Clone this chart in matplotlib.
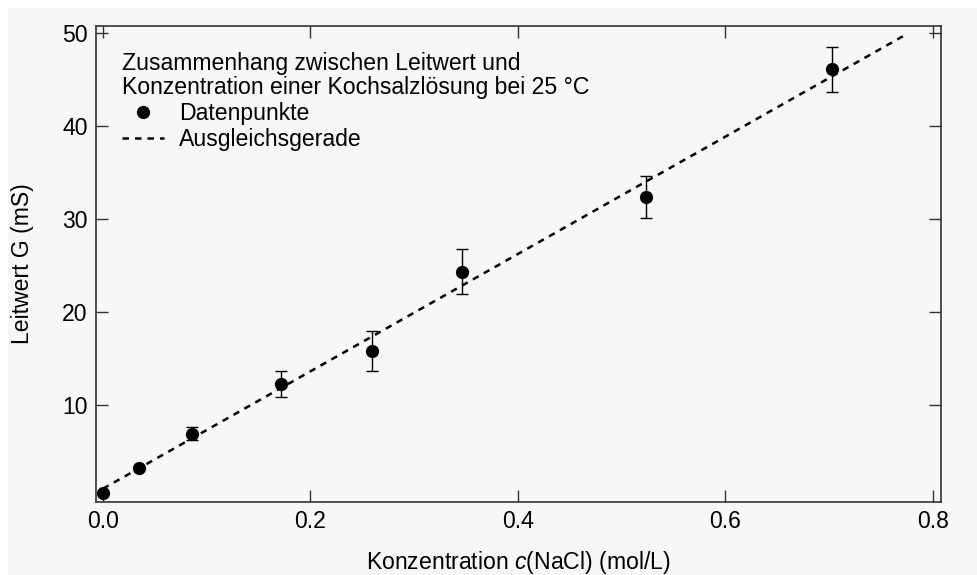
import numpy as np
import matplotlib.pyplot as plt
from matplotlib.patches import Rectangle

plt.rcParams['font.family'] = ['Liberation Sans', 'DejaVu Sans']
plt.rcParams['mathtext.fontset'] = 'custom'
plt.rcParams['mathtext.rm'] = 'Liberation Sans'
plt.rcParams['mathtext.it'] = 'Liberation Sans:italic'

# Messdaten
konz = [0.0, 0.035, 0.086, 0.172, 0.259, 0.346, 0.523, 0.703]
leitwert = [0.5, 3.2, 6.9, 12.25, 15.8, 24.35, 32.4, 46.1]
fehler = [0.0, 0.0, 0.7, 1.4, 2.15, 2.4, 2.25, 2.4]

# Ausgleichsgerade
steigung = 63.1
achsenabschnitt = 1.0
c_fit = [0.0, 0.775]

bg = '#f7f7f7'
fs = 16.6

fig = plt.figure(figsize=(9.78, 5.75), dpi=100)
fig.patch.set_facecolor('white')
fig.add_artist(Rectangle((8 / 978, 0), 1, 1 - 8 / 575, transform=fig.transFigure,
                         facecolor=bg, edgecolor='none', zorder=-10))

ax = fig.add_axes([96 / 978, 1 - 502 / 575, 845 / 978, 476 / 575])
ax.set_facecolor(bg)

g_fit = [achsenabschnitt + steigung * c for c in c_fit]
ax.plot(c_fit, g_fit, color='black', lw=1.8, linestyle=(0, (2.6, 2.4)),
        label='Ausgleichsgerade', zorder=2)

ax.errorbar(konz, leitwert, yerr=fehler, fmt='none', ecolor='black',
            elinewidth=1.0, capsize=4.5, capthick=1.0, zorder=3)
ax.plot(konz, leitwert, 'o', color='black', ms=8.5, label='Datenpunkte', zorder=4)

ax.set_xlim(-0.0067, 0.8077)
ax.set_ylim(-0.43, 50.75)
ax.set_xticks([0.0, 0.2, 0.4, 0.6, 0.8])
ax.set_yticks([10, 20, 30, 40, 50])
ax.xaxis.set_major_formatter(plt.FuncFormatter(lambda v, p: f'{v:.1f}'))
ax.tick_params(direction='in', length=8.5, width=1.0, top=True, right=True,
               labelsize=fs, colors='#333333', labelcolor='black', pad=6)
for s in ax.spines.values():
    s.set_color('#333333')
    s.set_linewidth(1.2)

ax.set_xlabel('Konzentration $c$(NaCl) (mol/L)', fontsize=fs, labelpad=11)
ax.set_ylabel('Leitwert G (mS)', fontsize=fs, labelpad=20)

handles, labels = ax.get_legend_handles_labels()
leg = ax.legend(handles[::-1], labels[::-1], loc='upper left', frameon=False,
                title='Zusammenhang zwischen Leitwert und\nKonzentration einer Kochsalzlösung bei 25 °C',
                fontsize=fs, title_fontsize=fs, alignment='left',
                handlelength=1.85, handletextpad=0.62, labelspacing=0.12,
                borderaxespad=0.72, bbox_to_anchor=(0.0, 1.0))
leg.get_title().set_linespacing(1.08)

fig.savefig('out.png', dpi=100, facecolor=fig.get_facecolor())
